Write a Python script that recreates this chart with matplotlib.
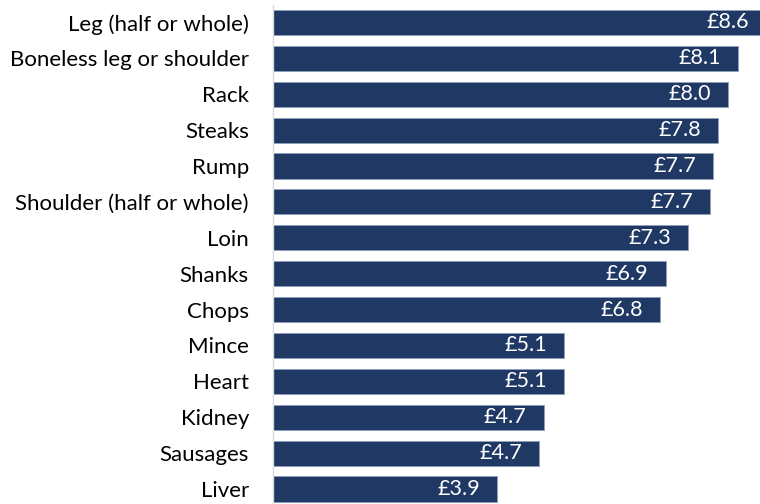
import matplotlib.pyplot as plt

# Average price per cut
cuts = ["Leg (half or whole)", "Boneless leg or shoulder", "Rack", "Steaks", "Rump",
        "Shoulder (half or whole)", "Loin", "Shanks", "Chops", "Mince", "Heart",
        "Kidney", "Sausages", "Liver"]
prices = [8.62, 8.13, 7.96, 7.78, 7.70, 7.65, 7.26, 6.87, 6.78, 5.10, 5.09, 4.74, 4.66, 3.93]

bar_color = "#203864"

plt.rcParams['font.family'] = ['Lato', 'DejaVu Sans']

fig = plt.figure(figsize=(7.6, 5.04), dpi=100)
ax = fig.add_axes([272.5 / 760, -3 / 504, 1 - 272.5 / 760, 1 - 1.5 / 504])

ypos = list(range(len(cuts)))
ax.barh(ypos, prices, height=0.7, color=bar_color, edgecolor="#8FA0BC", linewidth=0.6)

for y, v in zip(ypos, prices):
    ax.annotate(f"£{v:.1f}", (v, y), xytext=(-17, 0), textcoords="offset pixels",
                ha="right", va="center", color="white", fontsize=15.5,
                annotation_clip=False)

ax.set_xlim(0, 8.52)
ax.set_ylim(13.5, -0.5)
ax.set_yticks(ypos)
ax.set_yticklabels(cuts, fontsize=16)
ax.tick_params(axis="y", length=0, pad=17)
ax.set_xticks([])
for side in ["top", "right", "bottom"]:
    ax.spines[side].set_visible(False)
ax.spines["left"].set_color("#D9D9D9")
ax.spines["left"].set_linewidth(1.0)

fig.savefig("out.png", dpi=100)
